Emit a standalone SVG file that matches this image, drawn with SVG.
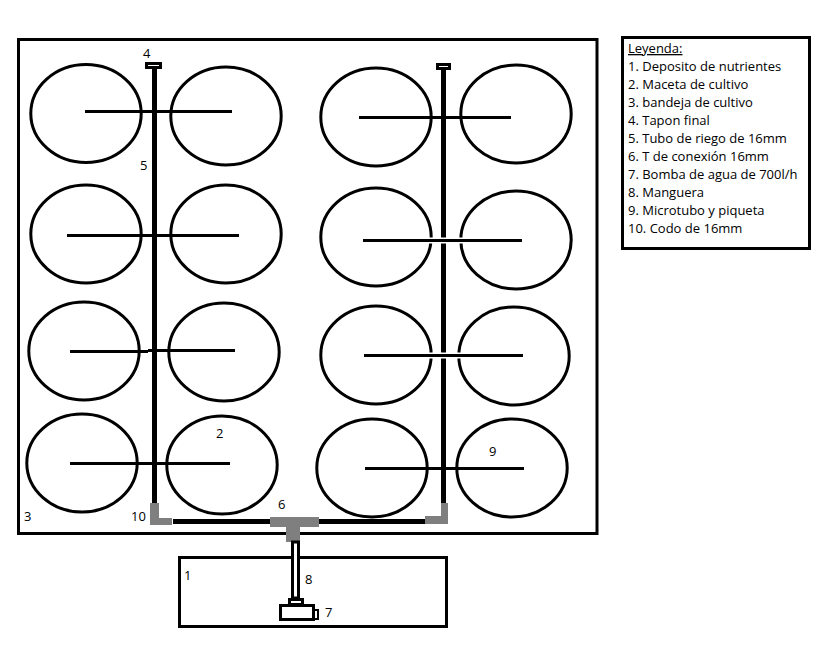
<svg xmlns="http://www.w3.org/2000/svg" width="820" height="648" viewBox="0 0 820 648">
<style>
.box{fill:#fff;stroke:#000;stroke-width:3}
.pot{fill:#fff;stroke:#000;stroke-width:3}
.line{stroke:#000;stroke-width:3;fill:none}
.halo{stroke:#fff;stroke-width:6;fill:none}
.pipe{stroke:#000;stroke-width:5;fill:none}
.gray{fill:#7f7f7f}
.cap{fill:#fff;stroke:#000;stroke-width:3}
text{font-family:"Open Sans","Noto Sans",sans-serif;font-size:13px;fill:#000}
</style>
<rect width="820" height="648" fill="#fff"/>
<g id="tray"><rect class="box" x="18.500" y="39.500" width="578.500" height="494"/></g>
<g id="depot"><rect class="box" x="179.500" y="557.500" width="267" height="69"/></g>
<g id="pots">
<ellipse class="pot" cx="86" cy="113.500" rx="55.200" ry="49"/>
<ellipse class="pot" cx="226" cy="116" rx="55.200" ry="49"/>
<ellipse class="pot" cx="86" cy="234" rx="55.200" ry="49"/>
<ellipse class="pot" cx="226" cy="234" rx="55.200" ry="49"/>
<ellipse class="pot" cx="84" cy="351" rx="55.200" ry="49"/>
<ellipse class="pot" cx="224" cy="352" rx="55.200" ry="49"/>
<ellipse class="pot" cx="82" cy="463" rx="55.200" ry="49"/>
<ellipse class="pot" cx="222" cy="465" rx="55.200" ry="49"/>
<ellipse class="pot" cx="376" cy="117" rx="55.200" ry="49"/>
<ellipse class="pot" cx="516" cy="114" rx="55.200" ry="49"/>
<ellipse class="pot" cx="376" cy="237" rx="55.200" ry="49"/>
<ellipse class="pot" cx="516" cy="240" rx="55.200" ry="49"/>
<ellipse class="pot" cx="376" cy="355" rx="55.200" ry="49"/>
<ellipse class="pot" cx="514" cy="356" rx="55.200" ry="49"/>
<ellipse class="pot" cx="372" cy="468" rx="55.200" ry="49"/>
<ellipse class="pot" cx="512" cy="468" rx="55.200" ry="49"/>
</g>
<g id="connectors">
<path class="pipe" d="M154.500 68V503M443.500 68V503M173 521.500H270M319 521.500H425"/>
<path class="halo" d="M420 240.500H470M420 355.500H470"/>
<path class="line" d="M85 111.500H232M67 235.500H239M70 351.500H148M148 350.500H235M70 463.500H230M359 117.500H511M363 240.500H522M364 355.500H523M365 468.500H524"/>
</g>
<g id="end-caps">
<rect class="cap" x="146.500" y="63.500" width="14" height="4"/>
<rect class="cap" x="437.500" y="64.500" width="12" height="4"/>
</g>
<g id="elbows">
<path class="gray" d="M150 503H159V518H172V525H150Z"/>
<path class="gray" d="M441 503H448V524H425V516H441Z"/>
</g>
<g id="tee"><path class="gray" d="M270 517H319V527H300V542H286V527H270Z"/></g>
<g id="hose"><rect x="292.500" y="542" width="6" height="56" fill="#fff" stroke="#000" stroke-width="3"/></g>
<g id="pump">
<rect x="289.500" y="599.500" width="13" height="5" fill="#fff" stroke="#000" stroke-width="3"/>
<rect x="280.500" y="605.500" width="33" height="14" fill="#fff" stroke="#000" stroke-width="3"/>
<rect x="314" y="610" width="4" height="9" fill="#fff" stroke="#000" stroke-width="2"/>
</g>
<g id="labels">
<text x="143" y="58">4</text>
<text x="140" y="170">5</text>
<text x="216" y="438">2</text>
<text x="489" y="456">9</text>
<text x="24" y="521">3</text>
<text x="131" y="521">10</text>
<text x="278" y="509">6</text>
<text x="184" y="580">1</text>
<text x="305" y="584">8</text>
<text x="325" y="617">7</text>
</g>
<g id="legend">
<rect class="box" x="622.500" y="37.500" width="187" height="211"/>
<text x="628" y="53" text-decoration="underline">Leyenda:</text>
<text x="628" y="71">1. Deposito de nutrientes</text>
<text x="628" y="89">2. Maceta de cultivo</text>
<text x="628" y="107">3. bandeja de cultivo</text>
<text x="628" y="125">4. Tapon final</text>
<text x="628" y="143">5. Tubo de riego de 16mm</text>
<text x="628" y="161">6. T de conexión 16mm</text>
<text x="628" y="179">7. Bomba de agua de 700l/h</text>
<text x="628" y="197">8. Manguera</text>
<text x="628" y="215">9. Microtubo y piqueta</text>
<text x="628" y="233">10. Codo de 16mm</text>
</g>
</svg>
